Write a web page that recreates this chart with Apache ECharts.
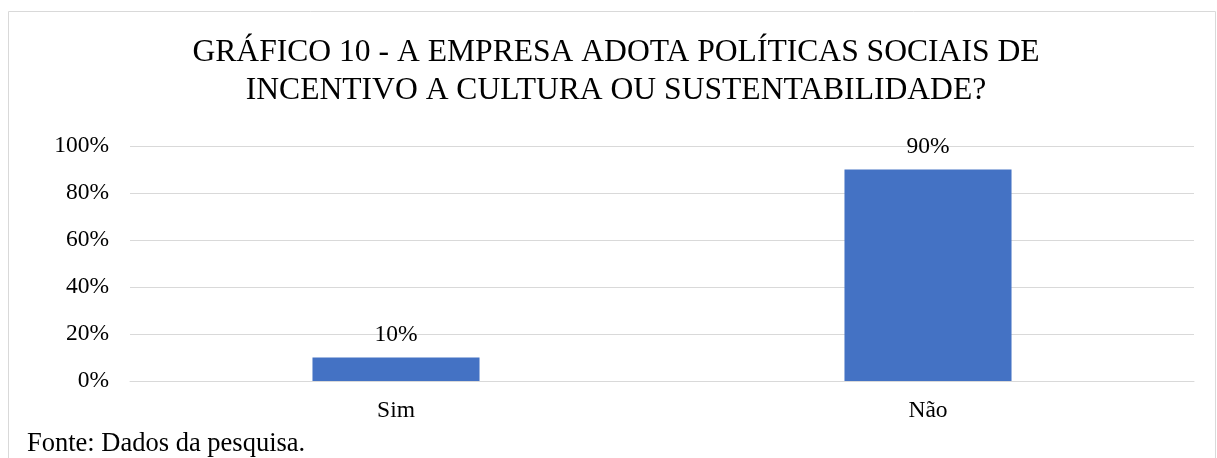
<!DOCTYPE html>
<html>
<head>
<meta charset="utf-8">
<script src="https://cdn.jsdelivr.net/npm/echarts@6/dist/echarts.min.js"></script>
<style>
  html, body { margin: 0; padding: 0; background: #fff; }
  #chart { width: 1217px; height: 458px; }
</style>
</head>
<body>
<div id="chart"></div>
<script>
// dados
const categorias = ['Sim', 'Não'];
const valores = [10, 90];
const ticksY = [0, 20, 40, 60, 80, 100];

const serif = '"Liberation Serif", "Times New Roman", serif';

const chart = echarts.init(document.getElementById('chart'));
chart.setOption({
    animation: false,
    title: [{
        text: 'GRÁFICO 10 - A EMPRESA ADOTA POLÍTICAS SOCIAIS DE\nINCENTIVO A CULTURA OU SUSTENTABILIDADE?',
        left: 611, top: 29, textAlign: 'center',
        textStyle: { fontFamily: serif, fontSize: 31.6, fontWeight: 'normal', color: '#000', lineHeight: 38 }
    }, {
        text: 'Fonte: Dados da pesquisa.',
        left: 22, top: 426,
        textStyle: { fontFamily: serif, fontSize: 26.5, fontWeight: 'normal', color: '#000' }
    }],
    graphic: [{
        type: 'rect',
        shape: { x: 8.5, y: 11.5, width: 1207, height: 450 },
        style: { fill: 'none', stroke: '#d9d9d9', lineWidth: 1 },
        silent: true
    }],
    grid: { left: 130, right: 23, top: 146, bottom: 77 },
    xAxis: {
        type: 'category',
        data: categorias,
        axisLine: { lineStyle: { color: '#d9d9d9', width: 1 } },
        axisTick: { show: false },
        axisLabel: { fontFamily: serif, fontSize: 23.5, color: '#000', margin: 18 }
    },
    yAxis: {
        type: 'value',
        min: ticksY[0], max: ticksY[ticksY.length - 1], interval: 20,
        axisLine: { show: false },
        axisTick: { show: false },
        splitLine: { lineStyle: { color: '#d9d9d9', width: 1 } },
        axisLabel: { fontFamily: serif, fontSize: 23.5, color: '#000', margin: 21, formatter: '{value}%' }
    },
    series: [{
        type: 'bar',
        data: valores,
        barWidth: '31.4%',
        itemStyle: { color: '#4472c4' },
        label: {
            show: true, position: 'top', distance: 11,
            fontFamily: serif, fontSize: 23.5, color: '#000',
            formatter: '{c}%'
        }
    }]
});
</script>
</body>
</html>
